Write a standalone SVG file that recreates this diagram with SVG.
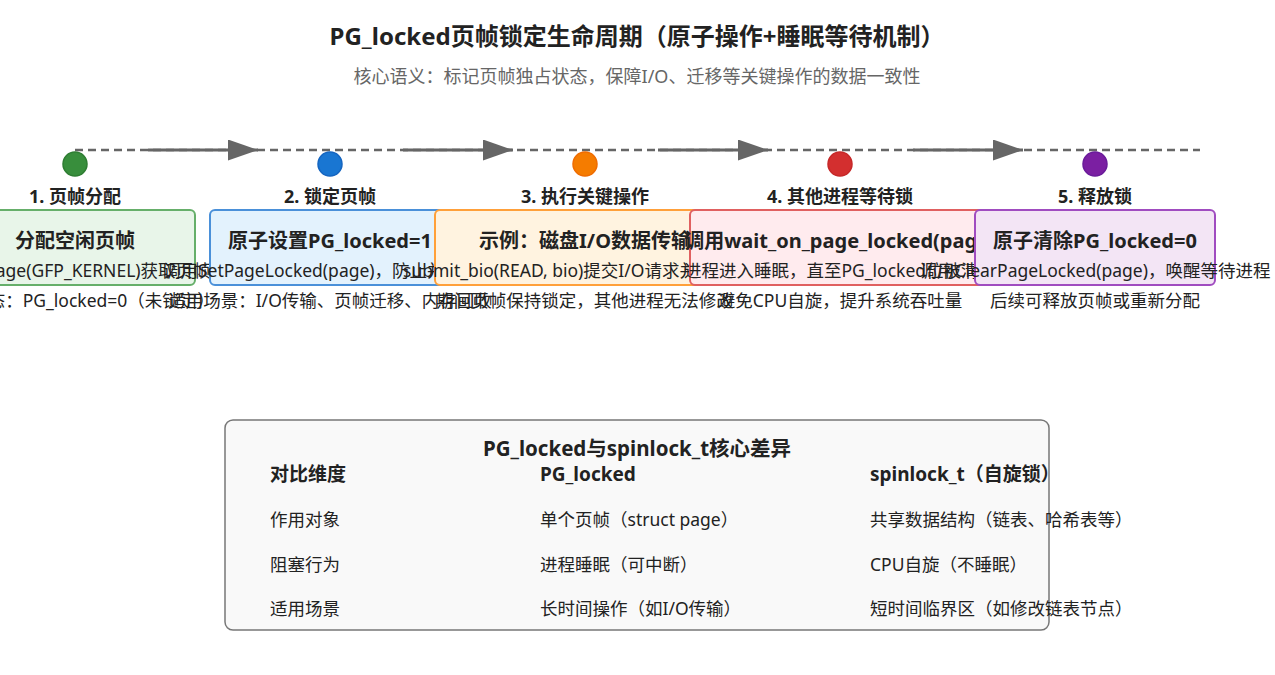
<svg xmlns="http://www.w3.org/2000/svg" width="1275" height="675" viewBox="0 0 1275 675">
<style>
text{font-family:"Noto Sans","Noto Sans CJK SC",sans-serif;fill:#222}
.t{font-size:24px;font-weight:bold;text-anchor:middle}
.st{font-size:18px;fill:#666;text-anchor:middle}
.lbl{font-size:18px;font-weight:bold;text-anchor:middle}
.bt{font-size:20px;font-weight:bold;text-anchor:middle}
.bd{font-size:17.5px;text-anchor:middle}
.th{font-size:19px;font-weight:bold}
.td{font-size:17.5px}
.box{stroke-width:2}
.dot{stroke-width:1.5}
.flow{stroke:#666;stroke-width:3;fill:none}
</style>
<defs>
<marker id="ah" viewBox="0 0 10 7" markerWidth="10" markerHeight="7" refX="10" refY="3.5" orient="auto" markerUnits="strokeWidth">
<path d="M0,0 L10,3.5 L0,7 Z" fill="#666"/>
</marker>
</defs>
<rect width="1275" height="675" fill="#fff"/>
<text class="t" x="637" y="45">PG_locked页帧锁定生命周期（原子操作+睡眠等待机制）</text>
<text class="st" x="637" y="83">核心语义：标记页帧独占状态，保障I/O、迁移等关键操作的数据一致性</text>

<g id="connectors">
<line x1="75" y1="150" x2="1200" y2="150" stroke="#666" stroke-width="2.5" stroke-dasharray="8 5"/>
<line class="flow" x1="148" y1="150" x2="258" y2="150" marker-end="url(#ah)"/>
<line class="flow" x1="403" y1="150" x2="513" y2="150" marker-end="url(#ah)"/>
<line class="flow" x1="658" y1="150" x2="768" y2="150" marker-end="url(#ah)"/>
<line class="flow" x1="913" y1="150" x2="1023" y2="150" marker-end="url(#ah)"/>
</g>

<g id="step1">
<circle class="dot" cx="75" cy="164" r="12" fill="#388E3C" stroke="#2E7D32"/>
<text class="lbl" x="75" y="203">1. 页帧分配</text>
<rect class="box" x="-45" y="210" width="240" height="75" rx="5" fill="#E8F5E9" stroke="#66AF6A"/>
<text class="bt" x="75" y="248">分配空闲页帧</text>
<text class="bd" x="75" y="277">alloc_page(GFP_KERNEL)获取页帧</text>
<text class="bd" x="75" y="307">初始状态：PG_locked=0（未锁定）</text>
</g>

<g id="step2">
<circle class="dot" cx="330" cy="164" r="12" fill="#1976D2" stroke="#1565C0"/>
<text class="lbl" x="330" y="203">2. 锁定页帧</text>
<rect class="box" x="210" y="210" width="240" height="75" rx="5" fill="#E3F2FD" stroke="#4A90D9"/>
<text class="bt" x="330" y="248">原子设置PG_locked=1</text>
<text class="bd" x="330" y="277">调用SetPageLocked(page)，防止并发修改</text>
<text class="bd" x="330" y="307">适用场景：I/O传输、页帧迁移、内存回收</text>
</g>

<g id="step3">
<circle class="dot" cx="585" cy="164" r="12" fill="#F57C00" stroke="#EF6C00"/>
<text class="lbl" x="585" y="203">3. 执行关键操作</text>
<rect class="box" x="435" y="210" width="300" height="75" rx="5" fill="#FFF3E0" stroke="#FFA03A"/>
<text class="bt" x="585" y="248">示例：磁盘I/O数据传输</text>
<text class="bd" x="585" y="277">submit_bio(READ, bio)提交I/O请求并等待完成</text>
<text class="bd" x="585" y="307">期间页帧保持锁定，其他进程无法修改</text>
</g>

<g id="step4">
<circle class="dot" cx="840" cy="164" r="12" fill="#D32F2F" stroke="#C62828"/>
<text class="lbl" x="840" y="203">4. 其他进程等待锁</text>
<rect class="box" x="690" y="210" width="300" height="75" rx="5" fill="#FFEBEE" stroke="#E06060"/>
<text class="bt" x="840" y="248">调用wait_on_page_locked(page)</text>
<text class="bd" x="840" y="277">进程进入睡眠，直至PG_locked位被清除</text>
<text class="bd" x="840" y="307">避免CPU自旋，提升系统吞吐量</text>
</g>

<g id="step5">
<circle class="dot" cx="1095" cy="164" r="12" fill="#7B1FA2" stroke="#6A1B9A"/>
<text class="lbl" x="1095" y="203">5. 释放锁</text>
<rect class="box" x="975" y="210" width="240" height="75" rx="5" fill="#F3E5F5" stroke="#A04CC0"/>
<text class="bt" x="1095" y="248">原子清除PG_locked=0</text>
<text class="bd" x="1095" y="277">调用ClearPageLocked(page)，唤醒等待进程</text>
<text class="bd" x="1095" y="307">后续可释放页帧或重新分配</text>
</g>

<g id="compare">
<rect x="225" y="420" width="824" height="210" rx="8" fill="#F9F9F9" stroke="#777" stroke-width="1.5"/>
<text class="th" x="637" y="456" text-anchor="middle" style="font-size:20.5px">PG_locked与spinlock_t核心差异</text>
<text class="th" x="270" y="481">对比维度</text>
<text class="th" x="540" y="481">PG_locked</text>
<text class="th" x="870" y="481">spinlock_t（自旋锁）</text>
<text class="td" x="270" y="526">作用对象</text>
<text class="td" x="540" y="526">单个页帧（struct page）</text>
<text class="td" x="870" y="526">共享数据结构（链表、哈希表等）</text>
<text class="td" x="270" y="571">阻塞行为</text>
<text class="td" x="540" y="571">进程睡眠（可中断）</text>
<text class="td" x="870" y="571">CPU自旋（不睡眠）</text>
<text class="td" x="270" y="615">适用场景</text>
<text class="td" x="540" y="615">长时间操作（如I/O传输）</text>
<text class="td" x="870" y="615">短时间临界区（如修改链表节点）</text>
</g>
</svg>
